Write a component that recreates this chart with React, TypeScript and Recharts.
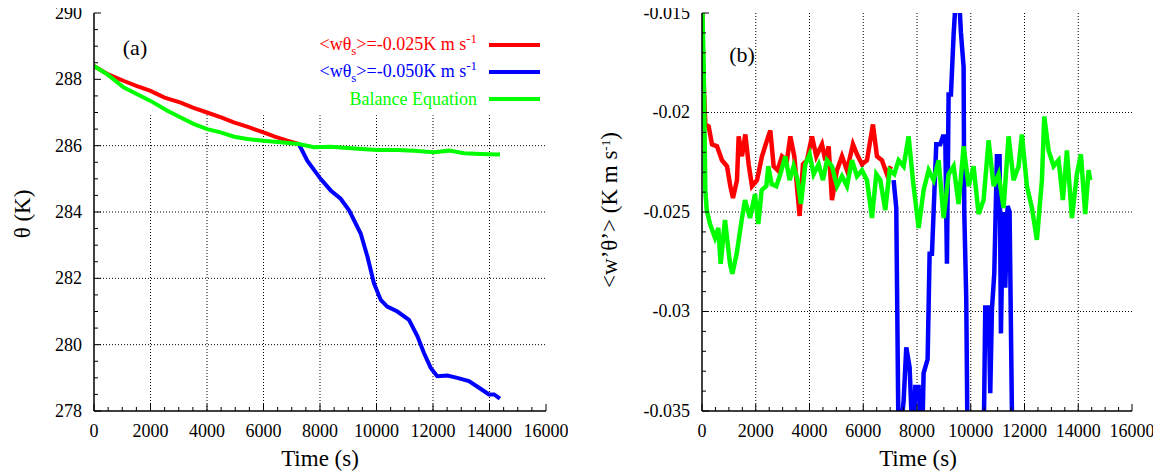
import { LineChart, Line, XAxis, YAxis, CartesianGrid, Legend, ReferenceArea } from "recharts";

const SERIF = '"Liberation Serif", "DejaVu Serif", "Times New Roman", Times, serif';
const RED = "#ff0000";
const BLUE = "#0000ff";
const GREEN = "#00ff00";

// panel (a): mean temperature, [time (s), theta (K)]
const thetaRed: [number, number][] = [
  [0, 288.4], [500, 288.15], [1060, 287.95], [1500, 287.8], [2000, 287.65],
  [2500, 287.45], [3070, 287.3], [3500, 287.15], [4000, 287.0], [4500, 286.85],
  [4950, 286.7], [5500, 286.55], [6000, 286.4], [6400, 286.27], [6840, 286.15],
  [7250, 286.05],
];
const thetaBlue: [number, number][] = [
  [7250, 286.05], [7550, 285.55], [8020, 285.0], [8380, 284.65], [8730, 284.4],
  [9030, 284.05], [9440, 283.35], [9680, 282.65], [9910, 281.85], [10150, 281.35],
  [10380, 281.15], [10740, 281.0], [11150, 280.75], [11450, 280.25], [11680, 279.75],
  [11920, 279.3], [12150, 279.05], [12510, 279.07], [12860, 279.0], [13270, 278.9],
  [13630, 278.7], [13980, 278.5], [14160, 278.5], [14370, 278.37],
];
const thetaGreen: [number, number][] = [
  [0, 288.4], [470, 288.15], [1060, 287.75], [1530, 287.55], [2000, 287.35],
  [2600, 287.05], [3070, 286.85], [3540, 286.65], [4010, 286.5], [4480, 286.4],
  [4960, 286.27], [5430, 286.2], [6000, 286.15], [6600, 286.1], [7250, 286.05],
  [7790, 285.95], [8380, 285.97], [8970, 285.93], [10000, 285.87], [10740, 285.87],
  [11330, 285.85], [12030, 285.8], [12570, 285.85], [13100, 285.77], [13690, 285.75],
  [14370, 285.73],
];

// panel (b): surface heat flux <w'theta'>, [time (s), K m/s]
const fluxRed: [number, number][] = [
  [0, -0.014], [37, -0.0176], [124, -0.0206], [248, -0.0207], [372, -0.0216],
  [558, -0.0217], [744, -0.0224], [930, -0.0227], [1054, -0.0237], [1153, -0.0243],
  [1302, -0.0234], [1364, -0.0212], [1488, -0.0222], [1612, -0.0211], [1736, -0.0226],
  [1860, -0.0237], [2046, -0.0234], [2232, -0.0222], [2418, -0.0214], [2542, -0.0209],
  [2666, -0.0227], [2815, -0.0229], [2976, -0.0222], [3162, -0.0224], [3286, -0.0212],
  [3435, -0.0222], [3559, -0.0241], [3633, -0.0252], [3757, -0.0226], [3906, -0.0224],
  [4092, -0.0212], [4253, -0.0222], [4464, -0.0216], [4588, -0.0224], [4712, -0.0217],
  [4836, -0.0244], [5022, -0.0229], [5208, -0.0222], [5394, -0.0229], [5617, -0.0216],
  [5766, -0.0221], [5952, -0.0226], [6138, -0.0224], [6361, -0.0206], [6510, -0.0222],
  [6696, -0.0224], [6882, -0.0231], [7031, -0.0227],
];
const fluxBlue: [number, number][] = [
  [7130, -0.0234], [7229, -0.0248], [7316, -0.037], [7502, -0.0345], [7601, -0.0318],
  [7725, -0.0328], [7849, -0.037], [7936, -0.0338], [8060, -0.0338], [8184, -0.037],
  [8246, -0.0331], [8395, -0.0324], [8469, -0.0271], [8556, -0.0271], [8618, -0.025],
  [8717, -0.0216], [8866, -0.0216], [8965, -0.0212], [9052, -0.0212], [9114, -0.0276],
  [9176, -0.0191], [9263, -0.0191], [9362, -0.0161], [9424, -0.0147], [9585, -0.0147],
  [9635, -0.016], [9734, -0.0177], [9759, -0.025], [9833, -0.0294], [9883, -0.037],
  [10478, -0.037], [10540, -0.0298], [10664, -0.0298], [10726, -0.0341], [10788, -0.0299],
  [10875, -0.0281], [10974, -0.0222], [11073, -0.0222], [11123, -0.0311], [11197, -0.025],
  [11284, -0.0288], [11371, -0.0247], [11445, -0.025], [11532, -0.0351], [11600, -0.037],
];
const fluxGreen: [number, number][] = [
  [0, -0.014], [62, -0.0177], [124, -0.0239], [175, -0.0249], [298, -0.0256],
  [484, -0.0263], [608, -0.0258], [695, -0.0276], [856, -0.0254], [1042, -0.0276],
  [1129, -0.0281], [1290, -0.0271], [1477, -0.0254], [1600, -0.0244], [1786, -0.0253],
  [1972, -0.0241], [2095, -0.0256], [2220, -0.0239], [2393, -0.0237], [2467, -0.0227],
  [2592, -0.0236], [2765, -0.0237], [2914, -0.0231], [3100, -0.0222],
  [3261, -0.0234], [3410, -0.0227], [3559, -0.0234], [3683, -0.0246], [3844, -0.0226],
  [4005, -0.0221], [4154, -0.0231], [4340, -0.0226], [4501, -0.0234], [4650, -0.0224],
  [4836, -0.0227], [5022, -0.0237], [5208, -0.0232], [5394, -0.0237], [5580, -0.0224],
  [5766, -0.0232], [5952, -0.0229], [6138, -0.0234], [6324, -0.0253], [6485, -0.0231],
  [6634, -0.0234], [6820, -0.0249], [6981, -0.0229], [7155, -0.0231], [7316, -0.0224],
  [7502, -0.0227], [7688, -0.0212], [7849, -0.0234], [8060, -0.0258], [8246, -0.0239],
  [8432, -0.0229], [8618, -0.0234], [8804, -0.0224], [8990, -0.0253], [9176, -0.0231],
  [9362, -0.0227], [9548, -0.0246], [9734, -0.0217], [9920, -0.0237], [10106, -0.0227],
  [10292, -0.0251], [10478, -0.0244], [10664, -0.0214], [10850, -0.0237], [11036, -0.0231],
  [11222, -0.0248], [11408, -0.0212], [11594, -0.0234], [11780, -0.0227], [11904, -0.0211],
  [12090, -0.0237], [12276, -0.0248], [12462, -0.0264], [12648, -0.0234], [12735, -0.0202],
  [12896, -0.0219], [13082, -0.0227], [13268, -0.0224], [13429, -0.0244], [13578, -0.0219],
  [13764, -0.0253], [13950, -0.0231], [14099, -0.0221], [14260, -0.0251], [14384, -0.0229],
  [14446, -0.0234],
];

const timeTicks = [0, 2000, 4000, 6000, 8000, 10000, 12000, 14000, 16000];
const thetaTicks = [278, 280, 282, 284, 286, 288, 290];
const fluxTicks = [-0.035, -0.03, -0.025, -0.02, -0.015];
const legendOrder = ["red", "blue", "green"];
// the key box in panel (a) hides the grid above this level
const keyBoxBottom = 286.92;

// minor ticks (gnuplot style)
const timeMinor = Array.from({ length: 33 }, (_, i) => i * 500);
const thetaMinor = Array.from({ length: 25 }, (_, i) => 278 + i * 0.5);
const fluxMinor = Array.from({ length: 21 }, (_, i) => Math.round((-0.035 + i * 0.001) * 1e6) / 1e6);

const rows = (pts: [number, number][]) => pts.map(([t, v]) => ({ t, v }));

const onStep = (v: number, step: number) => Math.abs(v / step - Math.round(v / step)) < 1e-6;

// inward ticks, labels only on the major ones
const makeTick =
  (side: "bottom" | "top" | "left" | "right", step: number, showLabel: boolean) =>
  (p: any) => {
    const { x, y } = p;
    const v: number = p.payload.value;
    const major = onStep(v, step);
    const len = major ? 7 : 4;
    let line;
    if (side === "bottom") line = <line x1={x} y1={y} x2={x} y2={y - len} />;
    else if (side === "top") line = <line x1={x} y1={y} x2={x} y2={y + len} />;
    else if (side === "left") line = <line x1={x} y1={y} x2={x + len} y2={y} />;
    else line = <line x1={x} y1={y} x2={x - len} y2={y} />;
    return (
      <g stroke="#000" strokeWidth={1}>
        {line}
        {showLabel && major && side === "bottom" && (
          <text x={x} y={y + 26} textAnchor="middle" fill="#000" stroke="none" fontSize={18} fontFamily={SERIF}>
            {String(v)}
          </text>
        )}
        {showLabel && major && side === "left" && (
          <text x={x - 12} y={y} dy="0.33em" textAnchor="end" fill="#000" stroke="none" fontSize={18} fontFamily={SERIF}>
            {String(v)}
          </text>
        )}
      </g>
    );
  };

const sub = (s: string) => <span style={{ fontSize: 13, position: "relative", top: 5 }}>{s}</span>;
const sup = (s: string) => <span style={{ fontSize: 13, position: "relative", top: -7 }}>{s}</span>;

const legendLabels: Record<string, React.ReactNode> = {
  red: <>&lt;wθ{sub("s")}&gt;=-0.025K m s{sup("-1")}</>,
  blue: <>&lt;wθ{sub("s")}&gt;=-0.050K m s{sup("-1")}</>,
  green: <>Balance Equation</>,
};

const renderLegend = (props: any) => {
  const items = [...(props.payload || [])].sort(
    (a: any, b: any) => legendOrder.indexOf(a.value) - legendOrder.indexOf(b.value)
  );
  return (
    <div style={{ width: 300, fontFamily: SERIF, fontSize: 18 }}>
      {items.map((e: any) => (
        <div key={e.value} style={{ display: "flex", justifyContent: "flex-end", alignItems: "center", height: 27 }}>
          <span style={{ color: e.color, whiteSpace: "nowrap", lineHeight: "27px" }}>{legendLabels[e.value]}</span>
          <span style={{ display: "inline-block", width: 51, height: 4, marginLeft: 12, background: e.color }} />
        </div>
      ))}
    </div>
  );
};

const axisLine = { stroke: "#000", strokeWidth: 1.5 };

const Frame = (timeStep: number, yTicks: number[], yMinor: number[], yStep: number, yDomain: [number, number], yWidth: number) => [
  <XAxis
    key="xb"
    xAxisId={0}
    type="number"
    dataKey="t"
    domain={[0, 16000]}
    allowDataOverflow
    ticks={timeMinor}
    interval={0}
    height={55}
    tickSize={0}
    tickMargin={0}
    axisLine={axisLine}
    tickLine={false}
    tick={makeTick("bottom", timeStep, true)}
  />,
  <XAxis
    key="xt"
    xAxisId="top"
    orientation="top"
    type="number"
    dataKey="t"
    domain={[0, 16000]}
    allowDataOverflow
    ticks={timeMinor}
    interval={0}
    height={0}
    tickSize={0}
    tickMargin={0}
    axisLine={axisLine}
    tickLine={false}
    tick={makeTick("top", timeStep, false)}
  />,
  <YAxis
    key="yl"
    yAxisId={0}
    type="number"
    domain={yDomain}
    allowDataOverflow
    ticks={yMinor}
    interval={0}
    width={yWidth}
    tickSize={0}
    tickMargin={0}
    axisLine={axisLine}
    tickLine={false}
    tick={makeTick("left", yStep, true)}
  />,
  <YAxis
    key="yr"
    yAxisId="r"
    orientation="right"
    type="number"
    domain={yDomain}
    allowDataOverflow
    ticks={yMinor}
    interval={0}
    width={0}
    tickSize={0}
    tickMargin={0}
    axisLine={axisLine}
    tickLine={false}
    tick={makeTick("right", yStep, false)}
  />,
  <CartesianGrid
    key="grid"
    stroke="#000"
    strokeDasharray="1 2"
    verticalValues={timeTicks.slice(1, -1)}
    horizontalValues={yTicks.slice(1, -1)}
  />,
];

const overlay = (left: number, top: number, rotate: boolean, size: number, content: React.ReactNode) => (
  <div
    style={{
      position: "absolute",
      left,
      top,
      transform: `translate(-50%, -50%)${rotate ? " rotate(-90deg)" : ""}`,
      fontFamily: SERIF,
      fontSize: size,
      whiteSpace: "nowrap",
      color: "#000",
      lineHeight: 1,
    }}
  >
    {content}
  </div>
);

// container is shifted up by the body margin so tick labels at the top are not clipped;
// overlay coordinates: x = page x - 8, y = page y
export default function App() {
  return (
    <div style={{ position: "relative", top: -8, width: 1145, height: 466, fontFamily: SERIF }}>
      <div style={{ position: "absolute", left: 0, top: 0 }}>
        <LineChart width={560} height={466} margin={{ top: 13, right: 22, bottom: 0, left: 0 }}>
          {Frame(2000, thetaTicks, thetaMinor, 2, [278, 290], 86)}
          <ReferenceArea x1={0} x2={16000} y1={keyBoxBottom} y2={290} fill="#fff" fillOpacity={1} stroke="none" />
          <Line data={rows(thetaRed)} dataKey="v" name="red" stroke={RED} strokeWidth={4} dot={false} isAnimationActive={false} />
          <Line data={rows(thetaBlue)} dataKey="v" name="blue" stroke={BLUE} strokeWidth={4} dot={false} isAnimationActive={false} />
          <Line data={rows(thetaGreen)} dataKey="v" name="green" stroke={GREEN} strokeWidth={4} dot={false} isAnimationActive={false} />
          <Legend
            layout="vertical"
            align="center"
            verticalAlign="middle"
            content={renderLegend}
            wrapperStyle={{ left: 232, top: 31.5, width: 300 }}
          />
        </LineChart>
      </div>
      <div style={{ position: "absolute", left: 580, top: 0 }}>
        <LineChart width={568} height={466} margin={{ top: 13, right: 24, bottom: 0, left: 0 }}>
          {Frame(2000, fluxTicks, fluxMinor, 0.005, [-0.035, -0.015], 114)}
          <Line data={rows(fluxRed)} dataKey="v" name="red" stroke={RED} strokeWidth={4.5} dot={false} isAnimationActive={false} />
          <Line data={rows(fluxBlue)} dataKey="v" name="blue" stroke={BLUE} strokeWidth={4.5} dot={false} isAnimationActive={false} />
          <Line data={rows(fluxGreen)} dataKey="v" name="green" stroke={GREEN} strokeWidth={4.5} dot={false} isAnimationActive={false} />
        </LineChart>
      </div>
      {overlay(14, 214, true, 23, <>θ (K)</>)}
      {overlay(312, 458, false, 23, <>Time (s)</>)}
      {overlay(127, 48, false, 22, <>(a)</>)}
      {overlay(601, 210, true, 23, <>&lt;w’θ’&gt; (K m s{sup("-1")})</>)}
      {overlay(910, 458, false, 23, <>Time (s)</>)}
      {overlay(734, 55, false, 22, <>(b)</>)}
    </div>
  );
}
